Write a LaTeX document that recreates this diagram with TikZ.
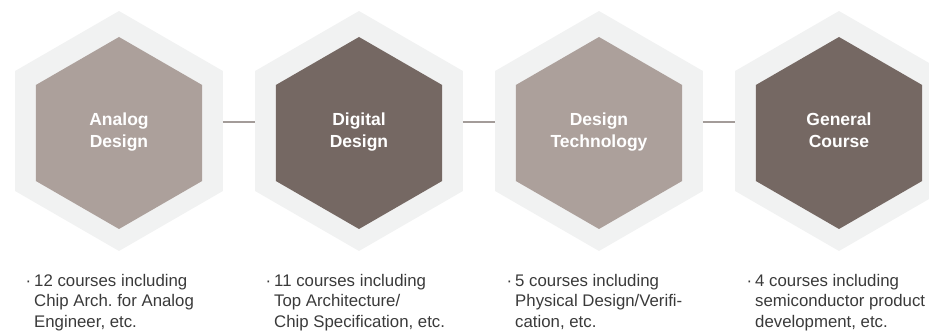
\documentclass[tikz,border=0pt]{standalone}
\usepackage{fontspec}
\setmainfont{Liberation Sans}
\usetikzlibrary{shapes.geometric}
\definecolor{hexbg}{HTML}{F1F2F2}
\definecolor{hexlight}{HTML}{ACA09B}
\definecolor{hexdark}{HTML}{756863}
\definecolor{linkgray}{HTML}{A39C99}
\definecolor{bodytext}{HTML}{3A3A3A}
\frenchspacing
\begin{document}
\begin{tikzpicture}[x=1pt,y=1pt,
  outerhex/.style={regular polygon,regular polygon sides=6,shape border rotate=30,fill=hexbg,minimum size=240pt,inner sep=0pt,outer sep=0pt},
  innerhex/.style={regular polygon,regular polygon sides=6,shape border rotate=30,minimum size=192pt,inner sep=0pt,outer sep=0pt,text=white,align=center,font=\fontsize{17.5}{22}\selectfont\bfseries,execute at begin node=\strut,execute at end node=\strut},
  note/.style={anchor=base west,inner sep=0pt,align=left,text=bodytext,font=\fontsize{16.8}{20.3}\selectfont},
  link/.style={linkgray,line width=1.2pt}]
\useasboundingbox (0,0) rectangle (929,-331);
\node[outerhex] (an-bg) at (119,-131) {};
\node[outerhex] (dd-bg) at (359,-131) {};
\node[outerhex] (dt-bg) at (599,-131) {};
\node[outerhex] (gc-bg) at (839,-131) {};
\node[innerhex,fill=hexlight] (an) at (119,-133) {Analog\\Design};
\node[innerhex,fill=hexdark] (dd) at (359,-133) {Digital\\Design};
\node[innerhex,fill=hexlight] (dt) at (599,-133) {Design\\Technology};
\node[innerhex,fill=hexdark] (gc) at (839,-133) {General\\Course};
\draw[link] ([yshift=9pt]an-bg.east) -- ([yshift=9pt]dd-bg.west);
\draw[link] ([yshift=9pt]dd-bg.east) -- ([yshift=9pt]dt-bg.west);
\draw[link] ([yshift=9pt]dt-bg.east) -- ([yshift=9pt]gc-bg.west);
% course notes
\node[note] (an-txt) at (34,-327) {\llap{·\hspace{3pt}}12 courses including\\Chip Arch. for Analog\\Engineer, etc.};
\node[note] (dd-txt) at (274,-327) {\llap{·\hspace{3pt}}11 courses including\\Top Architecture/\\Chip Specification, etc.};
\node[note] (dt-txt) at (515,-327) {\llap{·\hspace{3pt}}5 courses including\\Physical Design/Verifi-\\cation, etc.};
\node[note] (gc-txt) at (755,-327) {\llap{·\hspace{3pt}}4 courses including\\semiconductor product\\development, etc.};
\end{tikzpicture}
\end{document}
